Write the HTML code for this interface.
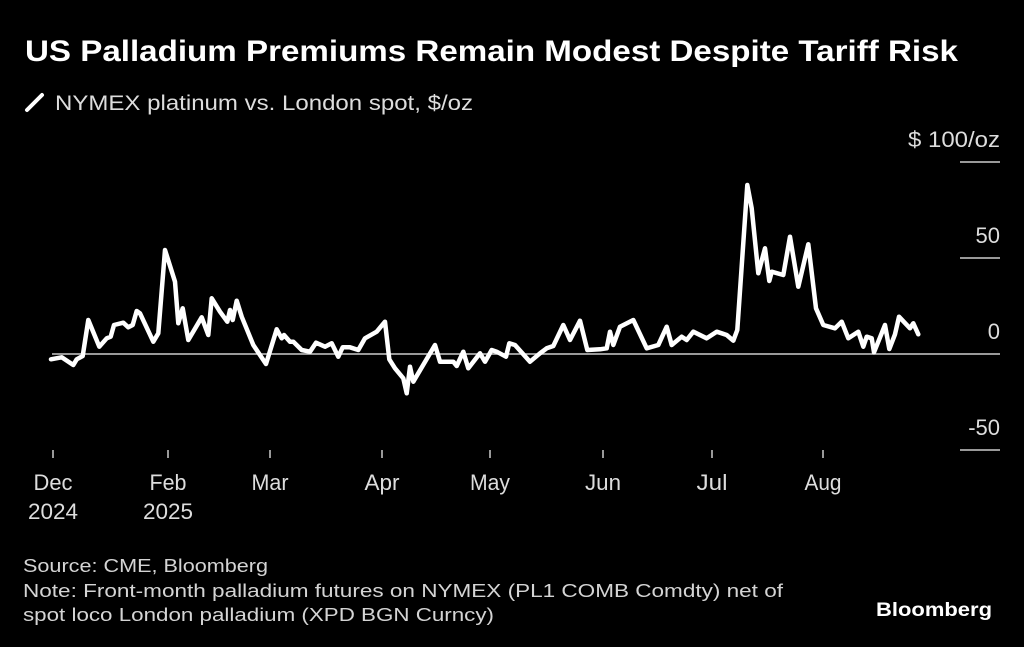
<!DOCTYPE html>
<html>
<head>
<meta charset="utf-8">
<style>
html,body{margin:0;padding:0;background:#000;}
svg{display:block;}
text{font-family:"Liberation Sans",sans-serif;}
</style>
</head>
<body>
<svg width="1024" height="647" viewBox="0 0 1024 647" xmlns="http://www.w3.org/2000/svg">
<rect width="1024" height="647" fill="#000"/>
<text x="25" y="61" font-size="30" font-weight="bold" fill="#fff" textLength="933" lengthAdjust="spacingAndGlyphs">US Palladium Premiums Remain Modest Despite Tariff Risk</text>
<line x1="27" y1="110" x2="42" y2="95" stroke="#fff" stroke-width="4" stroke-linecap="round"/>
<text x="55" y="110" font-size="21" fill="#ddd" textLength="418" lengthAdjust="spacingAndGlyphs">NYMEX platinum vs. London spot, $/oz</text>

<g fill="#ddd" font-size="22" text-anchor="end">
<text x="1000" y="147" textLength="92" lengthAdjust="spacingAndGlyphs">$ 100/oz</text>
<text x="1000" y="243">50</text>
<text x="1000" y="339">0</text>
<text x="1000" y="435">-50</text>
</g>
<g stroke="#ccc" stroke-width="1.5">
<line x1="960" y1="162" x2="1000" y2="162"/>
<line x1="960" y1="258" x2="1000" y2="258"/>
<line x1="960" y1="450" x2="1000" y2="450"/>
<line x1="52" y1="354" x2="1000" y2="354"/>
</g>
<g stroke="#ccc" stroke-width="1.5">
<line x1="53" y1="450" x2="53" y2="458"/>
<line x1="168" y1="450" x2="168" y2="458"/>
<line x1="270" y1="450" x2="270" y2="458"/>
<line x1="382" y1="450" x2="382" y2="458"/>
<line x1="490" y1="450" x2="490" y2="458"/>
<line x1="603" y1="450" x2="603" y2="458"/>
<line x1="712" y1="450" x2="712" y2="458"/>
<line x1="823" y1="450" x2="823" y2="458"/>
</g>
<g fill="#ddd" font-size="22" text-anchor="middle">
<text x="53" y="490" textLength="39" lengthAdjust="spacingAndGlyphs">Dec</text>
<text x="53" y="519" textLength="50" lengthAdjust="spacingAndGlyphs">2024</text>
<text x="168" y="490" textLength="37" lengthAdjust="spacingAndGlyphs">Feb</text>
<text x="168" y="519" textLength="50" lengthAdjust="spacingAndGlyphs">2025</text>
<text x="270" y="490" textLength="37" lengthAdjust="spacingAndGlyphs">Mar</text>
<text x="382" y="490" textLength="35" lengthAdjust="spacingAndGlyphs">Apr</text>
<text x="490" y="490" textLength="40" lengthAdjust="spacingAndGlyphs">May</text>
<text x="603" y="490" textLength="36" lengthAdjust="spacingAndGlyphs">Jun</text>
<text x="712" y="490" textLength="31" lengthAdjust="spacingAndGlyphs">Jul</text>
<text x="823" y="490" textLength="37" lengthAdjust="spacingAndGlyphs">Aug</text>
</g>

<polyline fill="none" stroke="#fff" stroke-width="4.5" stroke-linejoin="round" stroke-linecap="round" points="
51,359.3 61.7,357.3 73.3,365 76.7,359.3 82.7,356 88.3,320 99.3,346.7 106.7,338.3 110.7,336.7 114,325 123.3,322.7 128.3,327.3 132.7,325 136.7,311 140,313.3 153.3,341.7 158.3,333.3 165,250 175,281.7 178.3,323.3 182.7,308.3 188.3,340 201.7,317.3 208.3,335 211.7,298.3 220,311.7 227.3,321.7 230,310 232.7,320 236.7,300.7 241.7,316.7 253.3,345 266,364 276.7,329.3 281.7,338.3 284,335 290,341.7 293.3,341.7 301.7,350 310,351.7 316,342.7 325,346.7 331.7,343.3 338.3,356.7 342.7,347.3 350,347.3 358.3,350 365,338.3 376.7,331.7 385,321.7 389.3,359.3 395,368.3 403.3,378.3 406.7,393.3 410,366.7 413.3,381.7 435,345 440,361.7 453.3,361.7 456.7,366 463.3,351.7 468.3,368.3 480,353.3 485,361.7 491.7,350 496.7,351.7 506,356.7 509.3,343.3 515,345 530,361.7 540,353.3 546.7,348.3 553.3,346 563.3,325 570,340 580,320.7 587.3,350 600,349.3 606.7,348.3 610,331.7 613.3,345 620,326.7 633.3,320 646.7,348.3 658.3,345 666.7,326.7 671.7,345 681.7,336.7 686.7,340 693.3,331.7 706.7,338.3 716.7,331.7 721.7,333.3 726.7,335 733.3,340.7 737.3,330 747.3,185 751.7,208.3 758.3,273.3 765,248.3 769.3,281 771.7,271.7 783.3,275 790,236.7 798.3,286.7 808.3,244.3 816,308.3 823.3,325 835,328.3 841.7,321.7 848.3,338.3 858.3,331.7 863.3,346.7 866.7,336.7 871.7,338.3 874,352.3 885,325 889.3,349 895,334.3 899,316.7 910,328.3 913.3,323.3 918.3,334.3"/>

<g fill="#d4d4d4" font-size="18.5">
<text x="23" y="572" textLength="245" lengthAdjust="spacingAndGlyphs">Source: CME, Bloomberg</text>
<text x="23" y="597" textLength="760" lengthAdjust="spacingAndGlyphs">Note: Front-month palladium futures on NYMEX (PL1 COMB Comdty) net of</text>
<text x="23" y="621" textLength="471" lengthAdjust="spacingAndGlyphs">spot loco London palladium (XPD BGN Curncy)</text>
</g>
<text x="876" y="616" font-size="19" font-weight="bold" fill="#fff" textLength="116" lengthAdjust="spacingAndGlyphs">Bloomberg</text>
</svg>
</body>
</html>
